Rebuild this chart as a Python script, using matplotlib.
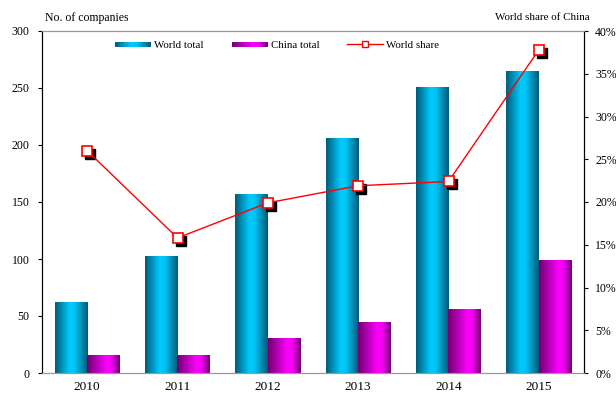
import numpy as np
import matplotlib
matplotlib.use("Agg")
import matplotlib.pyplot as plt
import matplotlib.transforms as mtransforms
from matplotlib.colors import LinearSegmentedColormap
from matplotlib.legend_handler import HandlerBase
from matplotlib.patches import Rectangle
from matplotlib.lines import Line2D

years = ["2010", "2011", "2012", "2013", "2014", "2015"]
world_total = [62, 103, 157, 206, 251, 265]
china_total = [16, 16, 31, 45, 56, 99]
world_share = [26.0, 15.8, 19.9, 21.9, 22.4, 37.8]

left_ticks = [0, 50, 100, 150, 200, 250, 300]
right_ticks = [0, 5, 10, 15, 20, 25, 30, 35, 40]

plt.rcParams['font.family'] = ['Liberation Serif', 'DejaVu Serif']

cmap_world = LinearSegmentedColormap.from_list(
    "w", [(0, "#005a78"), (0.45, "#00ccff"), (0.6, "#00c4f5"), (1, "#005a78")])
cmap_china = LinearSegmentedColormap.from_list(
    "c", [(0, "#700070"), (0.6, "#ff00ff"), (0.75, "#f000f0"), (1, "#700070")])

fig = plt.figure(figsize=(6.16, 3.94), dpi=100)
ax = fig.add_axes([42/616, 1 - 373/394, (584-42)/616, (373-31)/394])
ax2 = ax.twinx()

x = np.arange(len(years))
w = 0.36
grad = np.linspace(0, 1, 256).reshape(1, -1)

def gradient_bars(xpos, vals, cmap):
    bars = ax.bar(xpos, vals, width=w, facecolor="none", edgecolor="none", zorder=2)
    for b in bars:
        x0, y0 = b.get_x(), b.get_y()
        im = ax.imshow(grad, cmap=cmap, aspect="auto",
                       extent=[x0, x0 + b.get_width(), y0, y0 + b.get_height()],
                       zorder=2, interpolation="bilinear")
        im.set_clip_path(b)
    return bars

gradient_bars(x - w/2, world_total, cmap_world)
gradient_bars(x + w/2, china_total, cmap_china)

ax.set_xlim(-0.5, len(years) - 0.5)
ax.set_ylim(0, 300)
ax.set_yticks(left_ticks)
ax.set_xticks(x)
ax.set_xticklabels(years)
ax.tick_params(axis="x", length=0, labelsize=9.5, pad=6)
ax.tick_params(axis="y", direction="out", length=3, labelsize=8.5, pad=6)

ax2.set_ylim(0, 40)
ax2.set_yticks(right_ticks)
ax2.set_yticklabels([f"{t}%" for t in right_ticks])
ax2.tick_params(axis="y", direction="out", length=3, labelsize=8.5, pad=5)

for a in (ax, ax2):
    a.spines["top"].set_color("#999999")
    a.spines["bottom"].set_color("#999999")
    a.spines["left"].set_color("black")
    a.spines["right"].set_color("black")

# shadow markers
shadow = mtransforms.offset_copy(ax2.transData, fig=fig, x=3, y=-3, units="dots")
ax2.plot(x, world_share, linestyle="none", marker="s", markersize=7.5,
         color="black", transform=shadow, zorder=3)
ax2.plot(x, world_share, color="red", lw=1.0, marker="s", markersize=7.5,
         markerfacecolor="white", markeredgecolor="red", markeredgewidth=1.2, zorder=4)

fig.text(45/616, 1 - 18/394, "No. of companies", fontsize=8.5, va="center", ha="left")
fig.text(590/616, 1 - 18/394, "World share of China", fontsize=7.9, va="center", ha="right")

class GradHandler(HandlerBase):
    def __init__(self, cmap):
        super().__init__()
        self.cmap = cmap
    def create_artists(self, legend, orig_handle, xdescent, ydescent, width, height, fontsize, trans):
        n = 14
        arts = []
        for i in range(n):
            r = Rectangle((-xdescent + width * i / n, -ydescent + height * 0.15),
                          width / n + 0.3, height * 0.6,
                          facecolor=self.cmap((i + 0.5) / n), edgecolor="none", transform=trans)
            arts.append(r)
        return arts

h1 = Rectangle((0, 0), 1, 1)
h2 = Rectangle((0, 0), 1, 1)
h3 = Line2D([], [], color="red", lw=1, marker="s", markersize=4.5,
            markerfacecolor="white", markeredgecolor="red")
leg = ax2.legend([h1, h2, h3], ["World total", "China total", "World share"],
                 loc="center left", bbox_to_anchor=((117 - 42 - 2) / 542, 1 - 14/342), ncol=3,
                 frameon=False, borderpad=0, borderaxespad=0,
                 fontsize=7.8, handlelength=3.3, handletextpad=0.3, columnspacing=2.6,
                 handler_map={h1: GradHandler(cmap_world), h2: GradHandler(cmap_china)})

fig.savefig("out.png", dpi=100)
